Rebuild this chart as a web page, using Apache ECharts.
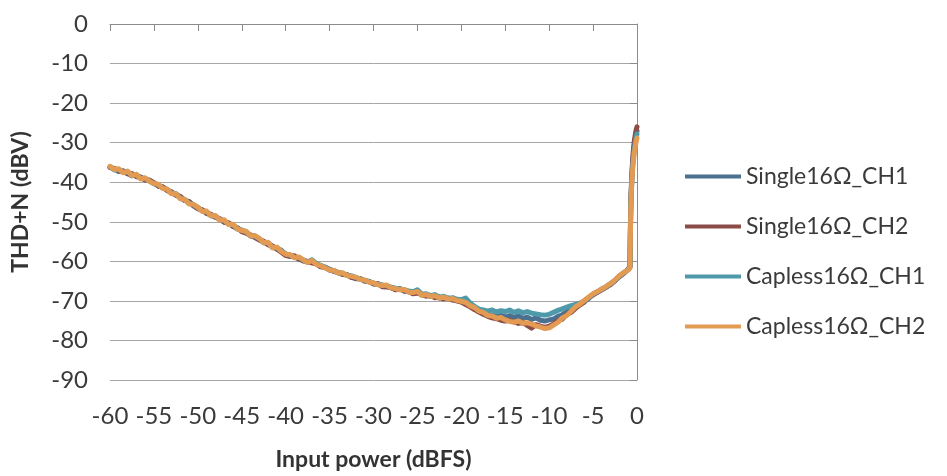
<!DOCTYPE html>
<html>
<head>
    <meta charset="UTF-8">
    <title>THD+N</title>
    <script src="https://cdn.jsdelivr.net/npm/echarts@6/dist/echarts.min.js"></script>
    <style>
        *{margin:0;padding:0}
        html,body{width:100%;height:100%;background:#fff}
        #main{width:947px;height:476px}
    </style>
</head>
<body>
<div id="main"></div>
<script type="text/javascript">
    // input power (dBFS): 0.5 dB steps to -1, then the steep part near 0
    var inputPower = [
        -60, -59.5, -59, -58.5, -58, -57.5, -57, -56.5, -56, -55.5,
        -55, -54.5, -54, -53.5, -53, -52.5, -52, -51.5, -51, -50.5,
        -50, -49.5, -49, -48.5, -48, -47.5, -47, -46.5, -46, -45.5,
        -45, -44.5, -44, -43.5, -43, -42.5, -42, -41.5, -41, -40.5,
        -40, -39.5, -39, -38.5, -38, -37.5, -37, -36.5, -36, -35.5,
        -35, -34.5, -34, -33.5, -33, -32.5, -32, -31.5, -31, -30.5,
        -30, -29.5, -29, -28.5, -28, -27.5, -27, -26.5, -26, -25.5,
        -25, -24.5, -24, -23.5, -23, -22.5, -22, -21.5, -21, -20.5,
        -20, -19.5, -19, -18.5, -18, -17.5, -17, -16.5, -16, -15.5,
        -15, -14.5, -14, -13.5, -13, -12.5, -12, -11.5, -11, -10.5,
        -10, -9.5, -9, -8.5, -8, -7.5, -7, -6.5, -6, -5.5,
        -5, -4.5, -4, -3.5, -3, -2.5, -2, -1.5, -1,
        -0.8, -0.75, -0.7, -0.6, -0.5, -0.4, -0.3, -0.2, -0.1, 0
    ];

    var single16CH1 = [
        -36.2, -36.6, -37.3, -37.1, -37.6, -38.4, -38.2, -38.8, -39.4, -39.5,
        -40.2, -40.9, -41.2, -41.9, -42.8, -42.9, -43.8, -44.6, -44.9, -45.8,
        -46.6, -47.0, -47.6, -48.5, -48.6, -49.4, -50.1, -50.3, -51.0, -51.8,
        -52.1, -52.7, -53.6, -53.6, -54.4, -55.3, -55.4, -56.3, -56.9, -57.2,
        -58.4, -58.5, -58.9, -59.4, -59.7, -60.2, -59.8, -60.7, -61.3, -61.5,
        -62.2, -62.4, -62.9, -63.3, -63.4, -63.9, -64.4, -64.4, -65.0, -65.1,
        -65.7, -65.7, -66.3, -66.2, -66.7, -67.0, -67.0, -67.5, -67.6, -68.1,
        -67.9, -68.5, -68.5, -68.9, -68.9, -69.3, -69.2, -69.6, -69.5, -70.0,
        -70.2, -70.7, -71.2, -72.0, -72.4, -73.1, -73.3, -73.7, -73.8, -73.6,
        -74.1, -73.7, -74.2, -73.8, -74.4, -74.1, -74.7, -74.3, -74.9, -75.1,
        -74.8, -74.6, -73.9, -73.5, -72.8, -72.4, -71.5, -71.0, -70.0, -69.4,
        -68.3, -67.8, -67.0, -66.5, -65.6, -64.9, -63.7, -63.0, -62.0,
        -61.4, -52.0, -45.0, -39.5, -35.5, -32.5, -30.5, -29.0, -27.8, -27.0
    ];

    var single16CH2 = [
        -36.3, -36.5, -37.1, -37.3, -37.9, -37.8, -38.6, -38.7, -39.4, -39.5,
        -40.1, -41.0, -41.2, -42.1, -42.4, -43.3, -43.6, -44.6, -44.9, -46.0,
        -46.7, -47.0, -47.9, -48.1, -48.9, -49.2, -50.1, -50.3, -51.2, -51.5,
        -52.5, -52.9, -53.3, -54.0, -54.6, -54.9, -55.8, -56.1, -56.9, -57.7,
        -58.5, -58.8, -58.6, -59.4, -59.9, -60.0, -60.4, -60.6, -61.4, -61.5,
        -62.0, -62.6, -62.8, -63.3, -63.4, -64.1, -64.3, -64.4, -65.0, -65.1,
        -65.7, -65.6, -66.4, -66.5, -66.6, -67.2, -66.9, -67.5, -67.6, -68.2,
        -68.0, -68.3, -68.8, -68.6, -69.2, -69.0, -69.5, -69.3, -69.8, -70.0,
        -70.3, -70.9, -71.5, -72.2, -72.8, -73.4, -73.9, -74.3, -74.5, -74.9,
        -75.1, -74.9, -75.3, -75.7, -75.4, -76.2, -76.9, -76.0, -76.4, -76.7,
        -76.4, -75.8, -75.0, -74.6, -73.4, -72.9, -71.9, -71.0, -70.3, -69.2,
        -68.5, -67.8, -67.2, -66.5, -65.9, -64.9, -63.9, -63.0, -62.0,
        -61.2, -51.0, -44.0, -38.5, -34.5, -31.5, -29.5, -28.0, -26.8, -26.0
    ];

    var capless16CH1 = [
        -36.1, -36.9, -36.8, -37.5, -37.4, -38.2, -38.2, -39.0, -39.0, -39.7,
        -40.4, -40.6, -41.5, -41.8, -42.7, -43.0, -44.0, -44.4, -45.3, -45.7,
        -46.4, -47.3, -47.5, -48.4, -48.6, -49.5, -49.7, -50.6, -50.8, -51.7,
        -52.1, -52.6, -53.5, -53.7, -54.3, -55.2, -55.4, -56.5, -56.6, -57.3,
        -58.1, -58.5, -59.0, -59.0, -59.7, -60.2, -59.6, -60.6, -61.0, -61.6,
        -62.0, -62.4, -62.9, -63.0, -63.5, -63.7, -64.1, -64.5, -64.8, -65.1,
        -65.5, -65.8, -66.0, -66.2, -66.5, -66.8, -67.0, -67.2, -67.5, -67.7,
        -67.2, -68.3, -68.2, -68.7, -68.4, -69.1, -68.8, -69.4, -69.2, -69.6,
        -69.7, -69.3, -70.5, -71.4, -72.1, -72.3, -72.6, -72.3, -72.8, -72.5,
        -72.7, -72.3, -72.9, -72.5, -73.0, -72.7, -73.1, -73.3, -73.5, -73.6,
        -73.4, -72.9, -72.4, -72.0, -71.6, -71.2, -70.9, -70.6, -70.0, -69.2,
        -68.3, -67.7, -67.0, -66.4, -65.7, -64.8, -63.8, -62.9, -62.1,
        -61.5, -53.0, -45.5, -40.0, -36.0, -33.5, -31.5, -30.0, -28.7, -27.8
    ];

    var capless16CH2 = [
        -36.0, -36.8, -36.6, -37.6, -37.2, -38.3, -38.0, -39.2, -38.9, -39.8,
        -40.3, -40.5, -41.6, -41.7, -42.9, -42.9, -44.2, -44.3, -45.5, -45.6,
        -46.3, -47.4, -47.3, -48.5, -48.4, -49.6, -49.5, -50.7, -50.6, -51.8,
        -52.2, -52.4, -53.6, -53.5, -54.2, -55.3, -55.2, -56.6, -56.4, -57.5,
        -58.2, -58.3, -59.1, -58.9, -59.6, -60.3, -59.8, -60.8, -61.1, -61.7,
        -62.2, -62.3, -63.0, -62.9, -63.6, -63.8, -64.0, -64.6, -64.7, -65.3,
        -65.4, -65.9, -66.1, -66.0, -66.7, -66.9, -67.2, -67.1, -67.8, -67.9,
        -67.6, -68.6, -68.4, -68.9, -68.7, -69.3, -69.0, -69.6, -69.4, -69.9,
        -70.1, -70.4, -71.2, -71.7, -72.6, -72.9, -73.7, -73.8, -74.4, -74.2,
        -74.8, -75.2, -75.4, -75.1, -75.6, -75.5, -75.9, -76.3, -76.6, -77.0,
        -76.8, -76.1, -75.4, -74.3, -73.7, -72.6, -71.5, -70.8, -69.9, -69.0,
        -68.2, -67.6, -67.0, -66.3, -65.6, -64.7, -63.6, -62.8, -62.2,
        -61.6, -53.0, -46.0, -40.5, -37.0, -34.5, -32.5, -31.0, -29.8, -28.8
    ];

    var seriesNames = ['Single16Ω_CH1', 'Single16Ω_CH2', 'Capless16Ω_CH1', 'Capless16Ω_CH2'];
    var seriesValues = [single16CH1, single16CH2, capless16CH1, capless16CH2];
    var seriesColors = ['#4a7190', '#8c4d48', '#4e9aab', '#e39a52'];

    function pairs(values) {
        var out = [];
        for (var i = 0; i < inputPower.length; i++) {
            out.push([inputPower[i], values[i]]);
        }
        return out;
    }

    var series = [];
    for (var k = 0; k < seriesNames.length; k++) {
        series.push({
            name: seriesNames[k],
            type: 'line',
            showSymbol: false,
            symbol: 'none',
            data: pairs(seriesValues[k]),
            lineStyle: {width: 5, color: seriesColors[k], join: 'round', cap: 'round'},
            itemStyle: {color: seriesColors[k]}
        });
    }

    var font = 'Lato, "Open Sans", sans-serif';
    var myChart = echarts.init(document.getElementById('main'));

    var option = {
        animation: false,
        backgroundColor: '#ffffff',
        grid: {left: 110, right: 310, top: 24, bottom: 92},
        legend: {
            orient: 'vertical',
            left: 680,
            top: 158,
            icon: 'rect',
            itemWidth: 56,
            itemHeight: 4,
            itemGap: 23,
            data: seriesNames,
            textStyle: {fontFamily: font, fontSize: 23, color: '#3a3a3a', lineHeight: 27}
        },
        xAxis: {
            type: 'value',
            min: -60,
            max: 0,
            interval: 5,
            name: 'Input power (dBFS)',
            nameLocation: 'middle',
            nameGap: 68,
            nameTextStyle: {fontFamily: font, fontSize: 23, fontWeight: 'bold', color: '#333'},
            axisLine: {lineStyle: {color: '#8c8c8c', width: 1}},
            axisTick: {show: true, inside: false, length: 7, lineStyle: {color: '#8c8c8c'}},
            axisLabel: {fontFamily: font, fontSize: 24, color: '#3a3a3a', margin: 24},
            splitLine: {show: false}
        },
        yAxis: {
            type: 'value',
            min: -90,
            max: 0,
            interval: 10,
            name: 'THD+N (dBV)',
            nameLocation: 'middle',
            nameRotate: 90,
            nameGap: 78,
            nameTextStyle: {fontFamily: font, fontSize: 23, fontWeight: 'bold', color: '#333'},
            axisLine: {show: true, lineStyle: {color: '#8c8c8c', width: 1}},
            axisTick: {show: true, inside: false, length: 7, lineStyle: {color: '#8c8c8c'}},
            axisLabel: {fontFamily: font, fontSize: 24, color: '#3a3a3a', margin: 22},
            splitLine: {show: true, lineStyle: {color: '#a6a6a6', width: 1}}
        },
        series: series
    };

    myChart.setOption(option);
</script>
</body>
</html>
